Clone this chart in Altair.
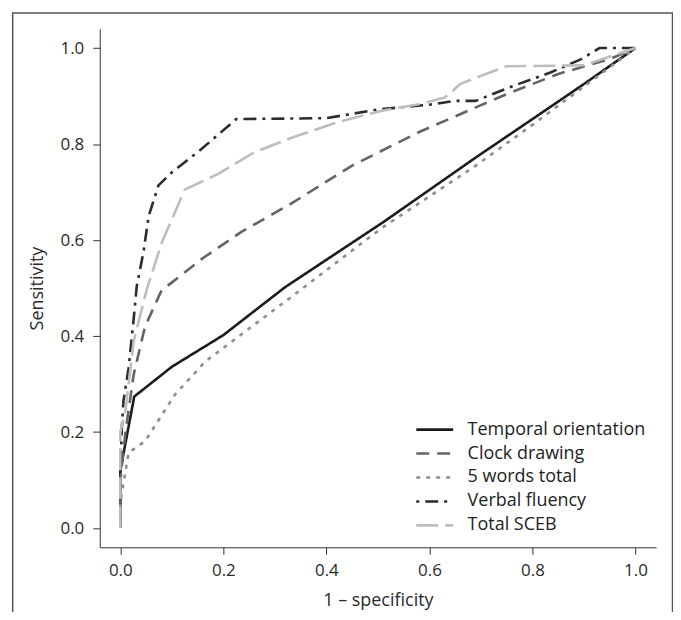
import altair as alt
import pandas as pd

# ---- data ----
series_names = ["Temporal orientation", "Clock drawing", "5 words total", "Verbal fluency", "Total SCEB"]

temporal_fpr = [0.0, 0.0, 0.027, 0.10, 0.20, 0.32, 0.51, 0.69, 0.80, 0.90, 1.0]
temporal_tpr = [0.0, 0.12, 0.274, 0.336, 0.402, 0.502, 0.637, 0.772, 0.852, 0.925, 1.0]

clock_fpr = [0.0, 0.0, 0.01, 0.026, 0.048, 0.08, 0.16, 0.235, 0.33, 0.45, 0.58, 0.70, 0.75, 0.85, 0.95, 1.0]
clock_tpr = [0.0, 0.10, 0.20, 0.32, 0.42, 0.495, 0.562, 0.617, 0.675, 0.755, 0.825, 0.881, 0.904, 0.946, 0.977, 1.0]

words_fpr = [0.0, 0.0, 0.016, 0.048, 0.106, 0.165, 0.33, 0.506, 0.69, 0.80, 0.954, 1.0]
words_tpr = [0.0, 0.053, 0.157, 0.181, 0.278, 0.347, 0.48, 0.624, 0.755, 0.84, 0.963, 1.0]

verbal_fpr = [0.0, 0.0, 0.003, 0.006, 0.016, 0.026, 0.032, 0.045, 0.055, 0.074, 0.10, 0.158, 0.225,
              0.40, 0.50, 0.60, 0.65, 0.69, 0.76, 0.835, 0.895, 0.93, 1.0]
verbal_tpr = [0.0, 0.12, 0.21, 0.264, 0.333, 0.437, 0.505, 0.575, 0.65, 0.714, 0.741, 0.79, 0.852,
              0.854, 0.872, 0.882, 0.89, 0.89, 0.92, 0.949, 0.977, 1.0, 1.0]

sceb_fpr = [0.0, 0.0, 0.01, 0.026, 0.052, 0.081, 0.106, 0.125, 0.19, 0.26, 0.33, 0.42, 0.51, 0.58,
            0.63, 0.66, 0.70, 0.75, 0.90, 1.0]
sceb_tpr = [0.0, 0.20, 0.245, 0.39, 0.50, 0.596, 0.658, 0.705, 0.738, 0.783, 0.812, 0.845, 0.87, 0.883,
            0.897, 0.925, 0.942, 0.962, 0.964, 1.0]

x_ticks = [0.0, 0.2, 0.4, 0.6, 0.8, 1.0]
y_ticks = [0.0, 0.2, 0.4, 0.6, 0.8, 1.0]

series_colors = ["#1c1c1c", "#646464", "#8e8e8e", "#2c2c2c", "#bdbdbd"]
series_dashes = [[1, 0], [13, 8], [4, 6], [3, 6, 13, 6], [22, 7]]

rows = []
for name, fx, ty in zip(series_names,
                        [temporal_fpr, clock_fpr, words_fpr, verbal_fpr, sceb_fpr],
                        [temporal_tpr, clock_tpr, words_tpr, verbal_tpr, sceb_tpr]):
    for i, (a, b) in enumerate(zip(fx, ty)):
        rows.append({"series": name, "fpr": a, "tpr": b, "idx": i})
df = pd.DataFrame(rows)

FONT = "Open Sans"

# wide horizontal stroke symbol: path spans twice the nominal symbol width
legend_kw = dict(title=None, orient="none", legendX=325, legendY=391,
                 symbolType="M-2,0H2", symbolSize=342, symbolStrokeWidth=2.6,
                 symbolFillColor="transparent",
                 labelFontSize=18, labelFont=FONT, labelColor="#222222",
                 labelOffset=22, rowPadding=4, labelLimit=0)

lines = alt.Chart(df).mark_line(strokeWidth=2.6, strokeCap="butt", strokeJoin="round").encode(
    x=alt.X("fpr:Q",
            scale=alt.Scale(domain=[-0.04, 1.04], nice=False, zero=False),
            axis=alt.Axis(values=x_ticks, format=".1f", title="1 – specificity",
                          grid=False, domainColor="#333333", tickColor="#333333",
                          tickSize=7, labelPadding=8, labelFontSize=17, labelColor="#2a2a2a",
                          titleFontSize=18, titleFontWeight="normal", titleColor="#2a2a2a",
                          titleBaseline="alphabetic", titleY=58, labelFont=FONT, titleFont=FONT)),
    y=alt.Y("tpr:Q",
            scale=alt.Scale(domain=[-0.04, 1.04], nice=False, zero=False),
            axis=alt.Axis(values=y_ticks, format=".1f", title="Sensitivity",
                          grid=False, domainColor="#333333", tickColor="#333333",
                          tickSize=7, labelPadding=9, labelFontSize=17, labelColor="#2a2a2a",
                          titleFontSize=18, titleFontWeight="normal", titleColor="#2a2a2a",
                          titleAngle=270, titleBaseline="alphabetic", titleX=-57, titleY=260,
                          titleAlign="center", labelFont=FONT, titleFont=FONT)),
    color=alt.Color("series:N",
                    scale=alt.Scale(domain=series_names, range=series_colors),
                    legend=alt.Legend(**legend_kw)),
    strokeDash=alt.StrokeDash("series:N",
                              scale=alt.Scale(domain=series_names, range=series_dashes),
                              legend=alt.Legend(**legend_kw)),
    order=alt.Order("idx:Q"),
)

frame = alt.Chart(alt.Data(values=[{"k": 1}])).mark_rect(
    fill="transparent", stroke="#555555", strokeWidth=1.5
).encode(
    x=alt.value(-87.3), x2=alt.value(574.5), y=alt.value(-16), y2=alt.value(640)
)

chart = alt.layer(frame, lines).properties(
    width=558, height=520,
    autosize=alt.AutoSizeParams(type="none"),
    padding={"left": 92, "top": 20, "right": 17, "bottom": 64},
    background="white",
).configure_view(stroke=None)

chart.save("out.html", embed_options={"renderer": "svg", "actions": False})
